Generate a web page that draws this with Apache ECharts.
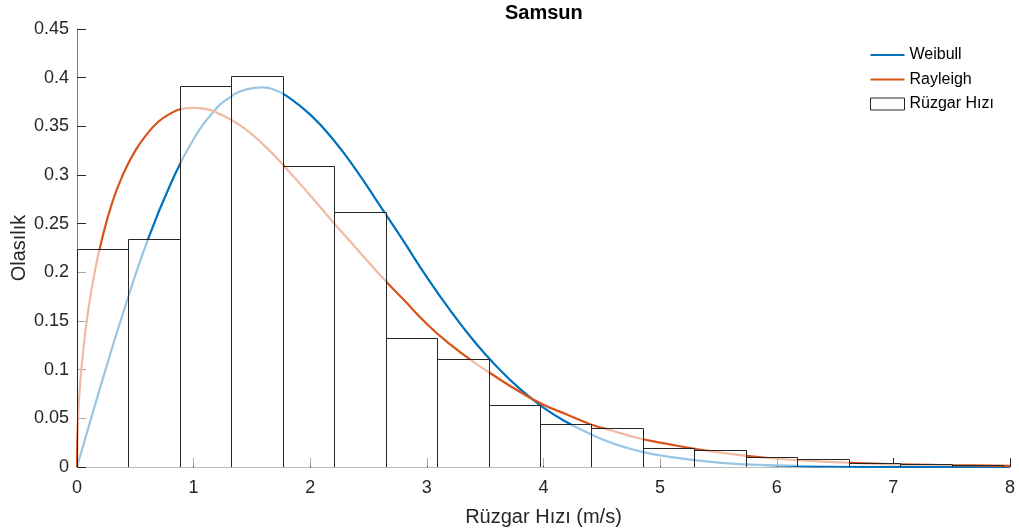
<!DOCTYPE html>
<html>
<head>
<meta charset="utf-8">
<script src="https://cdn.jsdelivr.net/npm/echarts@6/dist/echarts.min.js"></script>
<style>
  html, body { margin: 0; padding: 0; background: #fff; }
  #chart { width: 1019px; height: 531px; }
</style>
</head>
<body>
<div id="chart"></div>
<script>
// Histogram bin edges (m/s) and probability densities of each bin
const binEdges = [0, 0.441, 0.882, 1.323, 1.764, 2.206, 2.647, 3.088, 3.529, 3.970,
                  4.411, 4.852, 5.293, 5.734, 6.175, 6.617, 7.058, 7.499, 7.940];
const barHeights = [0.224, 0.234, 0.391, 0.402, 0.309, 0.2615, 0.1326, 0.111, 0.0636,
                    0.0437, 0.0396, 0.0195, 0.0177, 0.0098, 0.0082, 0.0041, 0.0027, 0.002];

// Fitted Weibull density
const weibullX = [0, 0.2, 0.4, 0.6, 0.8, 1.0, 1.2, 1.3, 1.4, 1.5, 1.6, 1.7, 1.8, 2.0, 2.2, 2.4,
                  2.6, 2.8, 3.0, 3.2, 3.4, 3.6, 3.8, 4.0, 4.2, 4.4, 4.6, 4.8, 5.0, 5.5, 6.0, 6.5,
                  7.0, 7.5, 8.0];
const weibullY = [0, 0.082, 0.160, 0.231, 0.290, 0.337, 0.369, 0.379, 0.386, 0.389, 0.390, 0.387,
                  0.381, 0.362, 0.336, 0.304, 0.268, 0.232, 0.195, 0.161, 0.130, 0.103, 0.080,
                  0.061, 0.046, 0.034, 0.024, 0.017, 0.012, 0.0045, 0.0016, 0.0005, 0.0001, 0, 0];

// Fitted Rayleigh density
const rayleighX = [0, 0.01, 0.03, 0.06, 0.1, 0.15, 0.2, 0.3, 0.4, 0.5, 0.6, 0.7, 0.8, 0.9, 1.0,
                   1.1, 1.2, 1.4, 1.6, 1.8, 2.0, 2.2, 2.4, 2.6, 2.8, 3.0, 3.2, 3.4, 3.6, 3.8,
                   4.0, 4.2, 4.4, 4.6, 4.8, 5.0, 5.5, 6.0, 6.5, 7.0, 7.5, 8.0];
const rayleighY = [0, 0.052, 0.090, 0.127, 0.164, 0.199, 0.227, 0.271, 0.302, 0.325, 0.342, 0.355,
                   0.363, 0.368, 0.369, 0.368, 0.364, 0.351, 0.331, 0.306, 0.279, 0.251, 0.224,
                   0.197, 0.172, 0.147, 0.126, 0.108, 0.092, 0.077, 0.064, 0.054, 0.044, 0.037,
                   0.030, 0.025, 0.015, 0.0085, 0.005, 0.003, 0.002, 0.0012];

const xTicks = { min: 0, max: 8, interval: 1 };
const yTicks = { min: 0, max: 0.45, interval: 0.05 };

const FONT = "'Liberation Sans', Arial, Helvetica, sans-serif";
const INK = '#262626';
const LINE_ICON = 'path://M0,0H34V2.2H0Z';

const pairs = (xs, ys) => xs.map((x, i) => [x, ys[i]]);
const histData = barHeights.map((h, i) => [binEdges[i], binEdges[i + 1], h]);

const chart = echarts.init(document.getElementById('chart'), null, { renderer: 'canvas' });

chart.setOption({
  animation: false,
  backgroundColor: '#fff',
  title: {
    text: 'Samsun',
    left: 505,
    top: 3,
    padding: 0,
    textStyle: { fontFamily: FONT, fontSize: 20, fontWeight: 'bold', color: '#000' }
  },
  legend: {
    orient: 'vertical',
    left: 870,
    top: 47,
    padding: 0,
    itemWidth: 34,
    itemHeight: 12,
    itemGap: 8.5,
    symbolKeepAspect: true,
    textStyle: { fontFamily: FONT, fontSize: 16, color: '#000', lineHeight: 16 },
    data: [
      { name: 'Weibull', icon: LINE_ICON },
      { name: 'Rayleigh', icon: LINE_ICON },
      { name: 'Rüzgar Hızı', icon: 'rect',
        itemStyle: { color: '#fff', borderColor: INK, borderWidth: 1 } }
    ]
  },
  grid: { left: 77, right: 9, top: 29, bottom: 64, containLabel: false, outerBoundsMode: 'none' },
  xAxis: {
    type: 'value',
    min: xTicks.min, max: xTicks.max, interval: xTicks.interval,
    name: 'Rüzgar Hızı (m/s)',
    nameLocation: 'middle',
    nameGap: 40,
    nameMoveOverlap: false,
    nameTextStyle: { fontFamily: FONT, fontSize: 20, color: INK },
    axisLine: { show: true, lineStyle: { color: '#bdbdbd', width: 1 } },
    axisTick: { show: true, inside: true, length: 9, lineStyle: { color: INK, width: 1 } },
    axisLabel: { fontFamily: FONT, fontSize: 18, color: INK, margin: 12 },
    splitLine: { show: false }
  },
  yAxis: {
    type: 'value',
    min: yTicks.min, max: yTicks.max, interval: yTicks.interval,
    name: 'Olasılık',
    nameLocation: 'middle',
    nameGap: 48,
    nameMoveOverlap: false,
    nameTextStyle: { fontFamily: FONT, fontSize: 20, color: INK },
    axisLine: { show: true, lineStyle: { color: '#808080', width: 1 } },
    axisTick: { show: true, inside: true, length: 9, lineStyle: { color: INK, width: 1 } },
    axisLabel: { fontFamily: FONT, fontSize: 18, color: INK, margin: 8 },
    splitLine: { show: false }
  },
  series: [
    {
      name: 'Weibull',
      type: 'line',
      data: pairs(weibullX, weibullY),
      symbol: 'none',
      smooth: 0.5,
      z: 2,
      color: '#0072BD',
      lineStyle: { width: 2.2, color: '#0072BD' }
    },
    {
      name: 'Rayleigh',
      type: 'line',
      data: pairs(rayleighX, rayleighY),
      symbol: 'none',
      smooth: 0.5,
      z: 2,
      color: '#D95319',
      lineStyle: { width: 2.2, color: '#D95319' }
    },
    {
      // semi-transparent white bars drawn above the density curves
      name: 'Rüzgar Hızı',
      type: 'custom',
      z: 5,
      color: '#fff',
      encode: { x: [0, 1], y: 2 },
      data: histData,
      renderItem: function (params, api) {
        const a = api.coord([api.value(0), 0]);
        const b = api.coord([api.value(1), api.value(2)]);
        const x0 = Math.round(a[0]) + 0.5;
        const x1 = Math.round(b[0]) + 0.5;
        const yb = a[1];
        const yt = Math.round(b[1]) + 0.5;
        return {
          type: 'group',
          children: [
            { type: 'rect',
              shape: { x: x0, y: yt, width: x1 - x0, height: yb - yt - 1 },
              style: { fill: 'rgba(255,255,255,0.6)' } },
            { type: 'polyline',
              shape: { points: [[x0, yb], [x0, yt], [x1, yt], [x1, yb]] },
              style: { stroke: INK, lineWidth: 1, fill: null } }
          ]
        };
      }
    }
  ]
});
</script>
</body>
</html>
